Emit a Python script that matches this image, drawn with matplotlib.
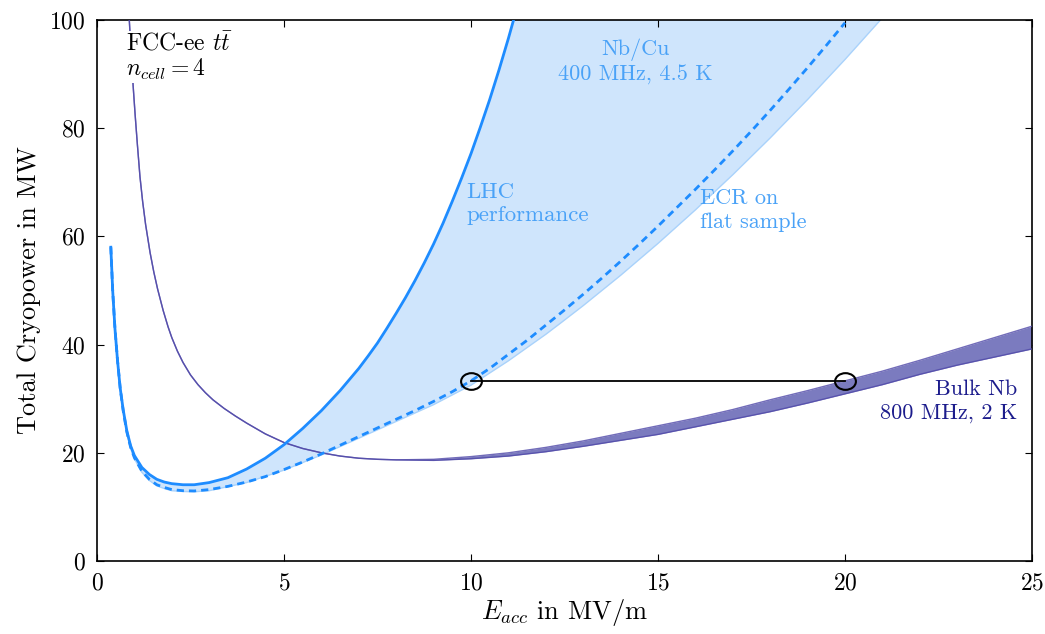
import numpy as np
import matplotlib.pyplot as plt
from matplotlib.path import Path
from matplotlib.transforms import Affine2D

# ---------- fonts (Computer Modern look) ----------
plt.rcParams['font.family'] = ['cmr10', 'DejaVu Serif']
plt.rcParams['mathtext.fontset'] = 'cm'
plt.rcParams['axes.formatter.use_mathtext'] = True

# ---------- data ----------
# Nb/Cu 400 MHz, LHC performance (solid)
lhc_x = [0.37, 0.42, 0.48, 0.55, 0.62, 0.7, 0.8, 0.9, 1.0, 1.2, 1.4, 1.6, 1.8, 2.0,
         2.3, 2.6, 3.0, 3.5, 4.0, 4.5, 5.0, 5.5, 6.0, 6.5, 7.0, 7.25, 7.5, 7.75, 8.0,
         8.25, 8.5, 8.75, 9.0, 9.25, 9.5, 9.75, 10.0, 10.25, 10.5, 10.75, 11.0, 11.3]
lhc_y = [58.0, 50.0, 43.0, 37.0, 32.0, 28.0, 24.0, 21.3, 19.5, 17.3, 16.0, 15.1, 14.6, 14.3,
         14.1, 14.1, 14.5, 15.4, 17.0, 19.0, 21.5, 24.5, 27.8, 31.5, 35.6, 37.9, 40.3, 43.0, 45.8,
         48.7, 51.8, 55.1, 58.6, 62.4, 66.5, 70.8, 75.3, 80.2, 85.3, 90.8, 96.6, 104.0]

# Nb/Cu 400 MHz, ECR on flat sample (dashed)
ecr_x = [0.37, 0.42, 0.48, 0.55, 0.62, 0.7, 0.8, 0.9, 1.0, 1.2, 1.4, 1.6, 1.8, 2.0,
         2.3, 2.6, 3.0, 3.5, 4.0, 4.5, 5.0, 5.5, 6.0, 6.5, 7.0, 7.5, 8.0, 8.5,
         9.0, 9.5, 10.0, 10.5, 11.0, 11.5, 12.0, 12.5, 13.0, 13.5, 14.0, 14.5,
         15.0, 15.5, 16.0, 16.5, 17.0, 17.5, 18.0, 18.5, 19.0, 19.5, 20.0]
ecr_y = [58.0, 50.0, 43.0, 37.0, 32.0, 27.8, 23.8, 21.0, 19.1, 16.6, 15.1, 14.1, 13.6, 13.2,
         13.0, 12.95, 13.2, 13.8, 14.6, 15.6, 16.9, 18.3, 19.8, 21.4, 23.0, 24.6, 26.2, 27.8,
         29.5, 31.3, 33.3, 35.6, 38.2, 40.8, 43.6, 46.4, 49.3, 52.3, 55.4, 58.6,
         61.9, 65.3, 68.7, 72.2, 75.8, 79.5, 83.3, 87.2, 91.2, 95.3, 99.5]

# lower edge of the Nb/Cu band
band_lo_x = [0.37, 0.42, 0.48, 0.55, 0.62, 0.7, 0.8, 0.9, 1.0, 1.2, 1.4, 1.6, 1.8, 2.0,
             2.3, 2.6, 3.0, 4.0, 5.0, 6.0, 7.0, 8.0, 9.0, 10.0, 11.0, 12.0, 12.4, 13.0,
             14.0, 15.0, 16.0, 17.0, 18.0, 19.0, 20.0, 21.0, 22.0]
band_lo_y = [58.0, 50.0, 43.0, 37.0, 32.0, 27.7, 23.6, 20.8, 18.9, 16.4, 14.9, 13.9, 13.4, 13.0,
             12.85, 12.8, 13.0, 14.5, 16.8, 19.6, 22.7, 25.8, 28.9, 32.5, 37.0, 41.9, 44.0, 47.2,
             52.8, 58.7, 64.9, 71.4, 78.2, 85.3, 92.7, 100.4, 108.4]

# Bulk Nb 800 MHz, 2 K band
nb_x = [0.86, 0.92, 0.97, 1.02, 1.08, 1.15, 1.22, 1.3, 1.42, 1.52, 1.62, 1.77, 1.9, 2.0,
        2.15, 2.3, 2.5, 2.7, 2.9, 3.1, 3.4, 3.7, 4.0, 4.5, 5.0, 5.5, 6.0, 6.5, 7.0, 7.5,
        8.0, 9, 10, 11, 12, 13, 14, 15, 16, 17, 18, 19, 20, 21, 22, 23, 24, 25]
nb_hi = [100.5, 93.0, 87.5, 82.5, 77.0, 71.0, 66.5, 62.2, 57.0, 53.4, 50.3, 46.3, 43.3, 41.3,
         38.8, 36.7, 34.4, 32.6, 31.1, 29.8, 28.2, 26.8, 25.5, 23.5, 21.9, 20.8, 20.0, 19.4,
         19.0, 18.8, 18.7, 18.8, 19.3, 20.0, 21.0, 22.2, 23.6, 25.0, 26.4, 28.0, 29.8, 31.5,
         33.3, 35.1, 37.1, 39.2, 41.3, 43.4]
nb_lo = [100.5, 93.0, 87.5, 82.5, 77.0, 71.0, 66.5, 62.2, 57.0, 53.4, 50.3, 46.3, 43.3, 41.3,
         38.8, 36.7, 34.4, 32.6, 31.1, 29.8, 28.2, 26.8, 25.5, 23.5, 21.9, 20.8, 20.0, 19.4,
         19.0, 18.8, 18.7, 18.6, 18.9, 19.4, 20.2, 21.2, 22.3, 23.4, 24.8, 26.2, 27.6, 29.2,
         30.9, 32.6, 34.5, 36.2, 37.7, 39.2]

# equal cryopower points
match_x = [10, 20]
match_y = [33.3, 33.3]

blue = '#1e8cff'
light = '#cfe5fc'
purple_fill = '#7b7bbf'
purple_line = '#4f48a8'
navy = '#1c1c8c'
txt_blue = '#4aa2f7'

fig = plt.figure(figsize=(10.45, 6.34), dpi=100)
ax = fig.add_axes([0.0928, 0.1151, 0.8948, 0.8534])

# Nb/Cu band
ax.fill(lhc_x + band_lo_x[::-1], lhc_y + band_lo_y[::-1], color=light, lw=0, zorder=1)
ax.plot(band_lo_x, band_lo_y, color='#a9d2fb', lw=1.0, zorder=2)
ax.plot(lhc_x, lhc_y, color=blue, lw=2.0, zorder=4)
ax.plot(ecr_x, ecr_y, color=blue, lw=2.0, dashes=(2.6, 1.8), zorder=4)

# Bulk Nb band
ax.fill_between(nb_x, nb_lo, nb_hi, color=purple_fill, lw=0, zorder=2)
ax.plot(nb_x, nb_hi, color=purple_line, lw=1.0, alpha=0.8, zorder=3)
ax.plot(nb_x, nb_lo, color=purple_line, lw=1.0, alpha=0.8, zorder=3)

# connecting line with oval markers
oval = Path.unit_circle().transformed(Affine2D().scale(1.25, 1.0))
ax.plot(match_x, match_y, color='black', lw=1.3, marker=oval, ms=15,
        mfc='none', mec='black', mew=1.5, zorder=6)

# labels in the plot
ax.text(0.78, 93.2, 'FCC-ee $t\\bar{t}$\n$n_{cell}=4$', fontsize=17, ha='left',
        va='center', linespacing=1.05, zorder=7,
        bbox=dict(facecolor='white', edgecolor='none', pad=1.0))
ax.text(14.4, 92.3, 'Nb/Cu\n400 MHz, 4.5 K', fontsize=16, color=txt_blue,
        ha='center', va='center', linespacing=1.25)
ax.text(9.88, 66.0, 'LHC\nperformance', fontsize=16.5, color=txt_blue,
        ha='left', va='center', linespacing=1.25)
ax.text(16.12, 64.8, 'ECR on\nflat sample', fontsize=16, color=txt_blue,
        ha='left', va='center', linespacing=1.25)
ax.text(24.6, 29.5, 'Bulk Nb\n800 MHz, 2 K', fontsize=16, color=navy,
        ha='right', va='center', linespacing=1.25, multialignment='right')

# axes
ax.set_xlim(0, 25)
ax.set_ylim(0, 100)
ax.set_xticks([0, 5, 10, 15, 20, 25])
ax.set_yticks([0, 20, 40, 60, 80, 100])
ax.tick_params(direction='in', top=True, right=True, length=5, width=0.8,
               labelsize=17, pad=8)
for s in ax.spines.values():
    s.set_linewidth(1.2)
ax.set_xlabel('$E_{acc}$ in MV/m', fontsize=19, labelpad=2)
ax.set_ylabel('Total Cryopower in MW', fontsize=19, labelpad=6)

fig.savefig('out.png', dpi=100)
